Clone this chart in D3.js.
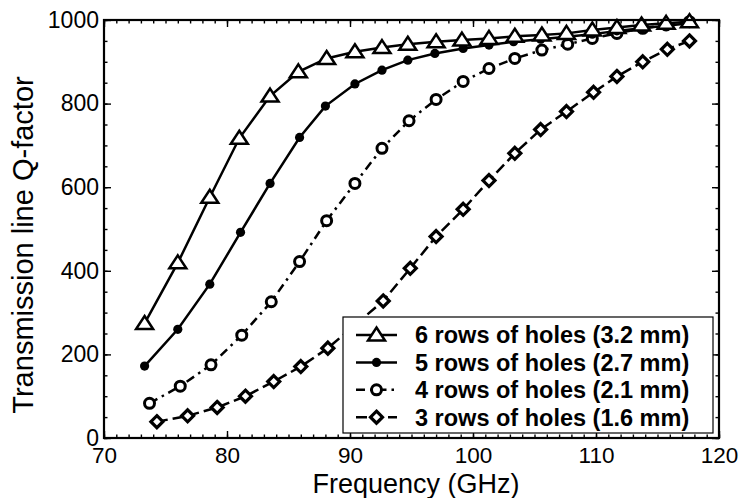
<!DOCTYPE html>
<html>
<head>
<meta charset="utf-8">
<script src="https://cdn.jsdelivr.net/npm/d3@7"></script>
<style>
  html, body { margin: 0; padding: 0; background: #fff; }
  svg { display: block; }
  text { font-family: "Liberation Sans", Arial, Helvetica, sans-serif; fill: #000; }
</style>
</head>
<body>
<svg id="chart" width="744" height="498"></svg>
<script>
// ---- data ----
const freq6 = [73.3, 76.0, 78.6, 81.0, 83.5, 85.8, 88.1, 90.4, 92.6, 94.7, 97.0, 99.1, 101.3, 103.4, 105.6, 107.6, 109.7, 111.7, 113.7, 115.7, 117.6];
const q6    = [274, 419, 576, 717, 818, 876, 908, 924, 934, 942, 948, 952, 956, 961, 964, 968, 976, 982, 988, 992, 996];

const freq5 = [73.3, 76.0, 78.6, 81.1, 83.5, 85.9, 88.0, 90.4, 92.6, 94.7, 96.9, 99.2, 101.3, 103.3, 105.5, 107.6, 109.7, 111.7, 113.7, 115.7, 117.6];
const q5    = [172, 260, 368, 492, 609, 719, 794, 847, 880, 904, 920, 932, 940, 948, 954, 960, 966, 974, 980, 986, 992];

const freq4 = [73.7, 76.2, 78.7, 81.2, 83.6, 85.9, 88.1, 90.4, 92.6, 94.8, 97.0, 99.2, 101.3, 103.4, 105.6, 107.7, 109.7, 111.7, 113.8, 115.7, 117.6];
const q4    = [83, 124, 175, 246, 326, 422, 520, 609, 693, 759, 810, 853, 884, 908, 928, 942, 956, 968, 980, 988, 996];

const freq3 = [74.3, 76.8, 79.2, 81.5, 83.8, 86.0, 88.2, 90.4, 92.7, 94.9, 97.0, 99.2, 101.3, 103.4, 105.5, 107.6, 109.8, 111.7, 113.8, 115.8, 117.6];
const q3    = [39, 53, 73, 100, 135, 171, 215, 270, 328, 406, 482, 547, 616, 681, 738, 781, 827, 865, 900, 930, 950];

const seriesNames = [
  "6 rows of holes (3.2 mm)",
  "5 rows of holes (2.7 mm)",
  "4 rows of holes (2.1 mm)",
  "3 rows of holes (1.6 mm)"
];
const xTicks = [70, 80, 90, 100, 110, 120];
const yTicks = [0, 200, 400, 600, 800, 1000];
const xTitle = "Frequency (GHz)";
const yTitle = "Transmission line Q-factor";

// ---- layout ----
const L = 104, R = 719, T = 20, B = 438;
const svg = d3.select("#chart");
const x = d3.scaleLinear().domain([70, 120]).range([L, R]);
const y = d3.scaleLinear().domain([0, 1000]).range([B, T]);

const styles = [
  { dash: null,        marker: "tri"  },
  { dash: null,        marker: "dot"  },
  { dash: "9,5,2.5,5", marker: "circ" },
  { dash: "11,5",      marker: "diam" }
];
const series = [
  { f: freq6, q: q6 },
  { f: freq5, q: q5 },
  { f: freq4, q: q4 },
  { f: freq3, q: q3 }
].map((s, i) => ({ name: seriesNames[i], pts: s.f.map((f, j) => [f, s.q[j]]), ...styles[i] }));

// ---- minor / major ticks (inward) ----
const xMinor = d3.range(70, 121, 1);
const yMinor = d3.range(0, 1001, 50);
function tickAxis(axisFn, scale, values, size, tr) {
  const g = svg.append("g").attr("transform", tr)
    .call(axisFn(scale).tickValues(values).tickSize(-size).tickSizeOuter(0).tickFormat(""));
  g.select(".domain").remove();
  g.selectAll(".tick line").attr("stroke", "#000").attr("stroke-width", 1.4);
  return g;
}
tickAxis(d3.axisBottom, x, xMinor, 3.5, `translate(0,${B})`);
tickAxis(d3.axisTop, x, xMinor, 3.5, `translate(0,${T})`);
tickAxis(d3.axisLeft, y, yMinor, 3.5, `translate(${L},0)`);
tickAxis(d3.axisRight, y, yMinor, 3.5, `translate(${R},0)`);
tickAxis(d3.axisBottom, x, xTicks, 7, `translate(0,${B})`);
tickAxis(d3.axisTop, x, xTicks, 7, `translate(0,${T})`);
tickAxis(d3.axisLeft, y, yTicks, 7, `translate(${L},0)`);
tickAxis(d3.axisRight, y, yTicks, 7, `translate(${R},0)`);

// ---- tick labels ----
const gx = svg.append("g").attr("transform", `translate(0,${B})`)
  .call(d3.axisBottom(x).tickValues(xTicks).tickSize(0).tickPadding(9).tickFormat(d3.format("d")));
gx.select(".domain").remove();
gx.selectAll("text").attr("font-size", 22.5).attr("font-family", "Liberation Sans, Arial, sans-serif");
const gy = svg.append("g").attr("transform", `translate(${L},0)`)
  .call(d3.axisLeft(y).tickValues(yTicks).tickSize(0).tickPadding(5).tickFormat(d3.format("d")));
gy.select(".domain").remove();
gy.selectAll("text").attr("font-size", 23).attr("font-family", "Liberation Sans, Arial, sans-serif");

// ---- lines ----
const line = d3.line().x(d => x(d[0])).y(d => y(d[1]));
const plot = svg.append("g");
series.forEach(s => {
  plot.append("path").datum(s.pts)
    .attr("d", line)
    .attr("fill", "none")
    .attr("stroke", "#000")
    .attr("stroke-width", 2.5)
    .attr("stroke-dasharray", s.dash);
});

function drawMarker(g, type, cx, cy) {
  if (type === "tri") {
    g.append("path").attr("d", `M${cx},${cy - 7.5}L${cx + 8.5},${cy + 5.5}L${cx - 8.5},${cy + 5.5}Z`)
      .attr("fill", "#fff").attr("stroke", "#000").attr("stroke-width", 2.5).attr("stroke-linejoin", "miter");
  } else if (type === "dot") {
    g.append("circle").attr("cx", cx).attr("cy", cy).attr("r", 4.6).attr("fill", "#000");
  } else if (type === "circ") {
    g.append("circle").attr("cx", cx).attr("cy", cy).attr("r", 5)
      .attr("fill", "#fff").attr("stroke", "#000").attr("stroke-width", 3);
  } else {
    g.append("path").attr("d", `M${cx},${cy - 6}L${cx + 6},${cy}L${cx},${cy + 6}L${cx - 6},${cy}Z`)
      .attr("fill", "#fff").attr("stroke", "#000").attr("stroke-width", 3.2);
  }
}
// draw markers in reverse order so the top series sits on top
series.slice().reverse().forEach(s => {
  const g = plot.append("g");
  s.pts.forEach(p => drawMarker(g, s.marker, x(p[0]), y(p[1])));
});

// ---- frame ----
svg.append("rect").attr("x", L).attr("y", T).attr("width", R - L).attr("height", B - T)
  .attr("fill", "none").attr("stroke", "#000").attr("stroke-width", 2.2);

// ---- legend ----
const lg = svg.append("g");
const lx0 = 343, ly0 = 317, lw = 370, lh = 116;
lg.append("rect").attr("x", lx0).attr("y", ly0).attr("width", lw).attr("height", lh)
  .attr("fill", "#fff").attr("stroke", "#000").attr("stroke-width", 1.2);
series.forEach((s, i) => {
  const cy = 335 + i * 27.4;
  lg.append("line").attr("x1", 356).attr("x2", 397).attr("y1", cy).attr("y2", cy)
    .attr("stroke", "#000").attr("stroke-width", 2.5).attr("stroke-dasharray", s.dash);
  drawMarker(lg, s.marker, 376.5, cy);
  lg.append("text").attr("x", 415).attr("y", cy).attr("dy", "0.36em")
    .attr("font-size", 23.5).attr("font-weight", "bold").text(s.name);
});

// ---- axis titles ----
svg.append("text").attr("x", 416).attr("y", 492.5).attr("text-anchor", "middle")
  .attr("font-size", 27).text(xTitle);
svg.append("text").attr("transform", `translate(33,245) rotate(-90)`).attr("text-anchor", "middle")
  .attr("font-size", 29).text(yTitle);
</script>
</body>
</html>
